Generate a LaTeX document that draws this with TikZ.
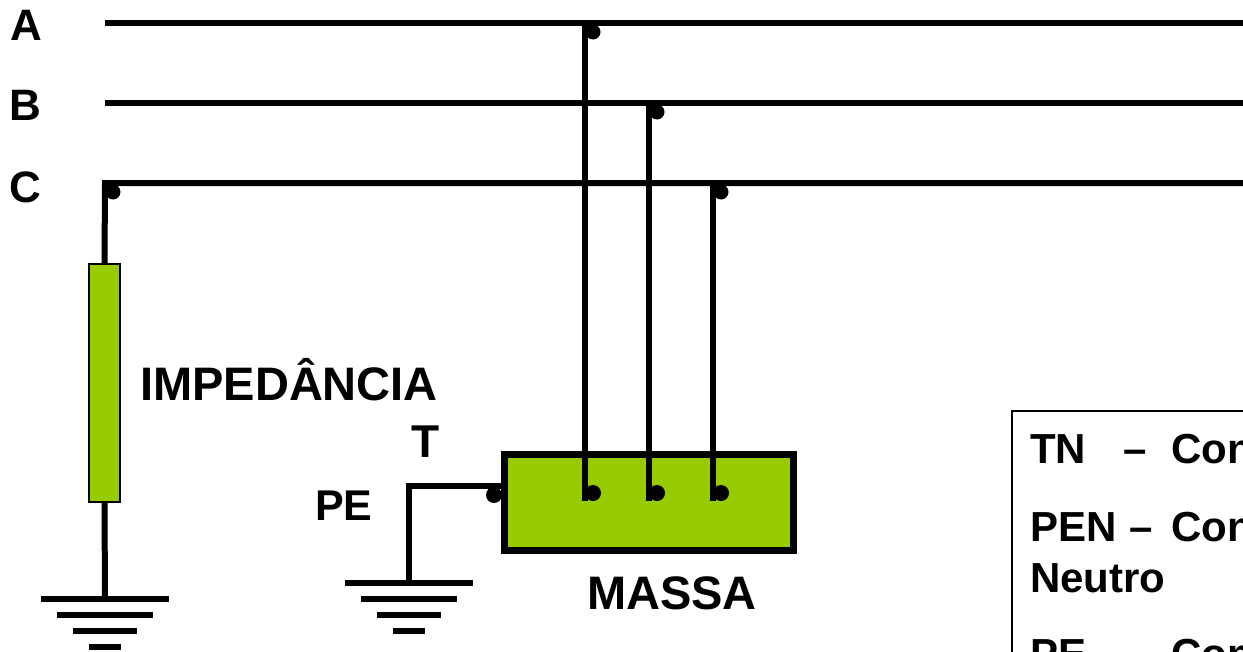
\documentclass[tikz,border=0pt]{standalone}
\usepackage{fontspec}
\setmainfont{Liberation Sans}
\definecolor{massa}{RGB}{153,204,0}
\begin{document}
\begin{tikzpicture}[x=1pt,y=-1pt,
  wire/.style={line width=6pt, line join=miter},
  gnd/.style={line width=6pt},
  jdot/.style={fill=black},
  lbl/.style={anchor=base west, inner sep=0pt, font=\bfseries\fontsize{46}{50}\selectfont},
  lblsmall/.style={anchor=base west, inner sep=0pt, font=\bfseries\fontsize{43}{48}\selectfont},
  leg/.style={anchor=base west, inner sep=0pt, font=\bfseries\fontsize{42}{48}\selectfont},
  greenbox/.style={draw=black, fill=massa, inner sep=0pt}]
\useasboundingbox (0,0) rectangle (1243,651);
\clip (0,0) rectangle (1243,651);
\fill[white] (0,0) rectangle (1243,651);

% phase labels
\node[lblsmall, font=\bfseries\fontsize{44}{48}\selectfont] (lA) at (10,40) {A};
\node[lblsmall, font=\bfseries\fontsize{44}{48}\selectfont] (lB) at (9,120) {B};
\node[lblsmall, font=\bfseries\fontsize{44}{48}\selectfont] (lC) at (9,202) {C};

% coordinates
\coordinate (A0) at (105,23);  \coordinate (A1) at (1260,23);
\coordinate (B0) at (105,103); \coordinate (B1) at (1260,103);
\coordinate (C0) at (105,183); \coordinate (C1) at (1260,183);
\coordinate (tA) at (585,23);  \coordinate (bA) at (585,501);
\coordinate (tB) at (649,103); \coordinate (bB) at (649,501);
\coordinate (tC) at (713,183); \coordinate (bC) at (713,501);

% impedance and massa
\node[greenbox, line width=2pt, minimum width=31pt, minimum height=238pt] (imp) at (104.5,383) {};
\node[greenbox, line width=7pt, minimum width=289pt, minimum height=96pt] (mass) at (649,502.5) {};

% phase lines
\draw[wire] (A0) -- (A1);
\draw[wire] (B0) -- (B1);
\draw[wire] (C1) -- (C0) -- (imp.north);

% vertical connections to massa
\draw[wire] (tA) -- (bA);
\draw[wire] (tB) -- (bB);
\draw[wire] (tC) -- (bC);

% dots
\fill[jdot] (113,192) circle[radius=7.5pt];
\fill[jdot] (593,32) circle[radius=7.5pt];
\fill[jdot] (657,112) circle[radius=7.5pt];
\fill[jdot] (721,192) circle[radius=7.5pt];
\fill[jdot] (593,493) circle[radius=8pt];
\fill[jdot] (657,493) circle[radius=8pt];
\fill[jdot] (721,493) circle[radius=8pt];
\fill[jdot] (494,495) circle[radius=8pt];

% left ground
\coordinate (g1) at (105,599);
\draw[wire] (imp.south) -- (g1);
\draw[gnd] (41,599) -- (169,599);
\draw[gnd] (57,615) -- (153,615);
\draw[gnd] (73,631) -- (137,631);
\draw[gnd] (89,647) -- (121,647);

% PE ground
\coordinate (pe0) at (409,486);
\coordinate (pe1) at (409,583);
\draw[wire] (mass.west |- pe0) -- (pe0) -- (pe1);
\draw[gnd] (345,583) -- (473,583);
\draw[gnd] (361,599) -- (457,599);
\draw[gnd] (377,615) -- (441,615);
\draw[gnd] (393,631) -- (425,631);

% labels
\node[lbl, font=\bfseries\fontsize{47}{50}\selectfont] (limp) at (140,400) {IMPEDÂNCIA};
\node[lbl] (lT) at (411,457) {T};
\node[lblsmall] (lPE) at (315,520) {PE};
\node[lbl, font=\bfseries\fontsize{47}{50}\selectfont] (lM) at (587,609) {MASSA};

% legend
\draw[line width=2.5pt] (1260,411) -- (1012,411) -- (1012,700);
\node[leg] (t1a) at (1030,463) {TN};
\node[leg] (t1b) at (1123,463) {–};
\node[leg] (t1c) at (1171,463) {Con};
\node[leg] (t2a) at (1030,541) {PEN};
\node[leg] (t2b) at (1129,541) {–};
\node[leg] (t2c) at (1171,541) {Con};
\node[leg] (t3) at (1030,592) {Neutro};
\node[leg] (t4a) at (1030,668) {PE};
\node[leg] (t4c) at (1171,668) {Con};
\end{tikzpicture}
\end{document}
